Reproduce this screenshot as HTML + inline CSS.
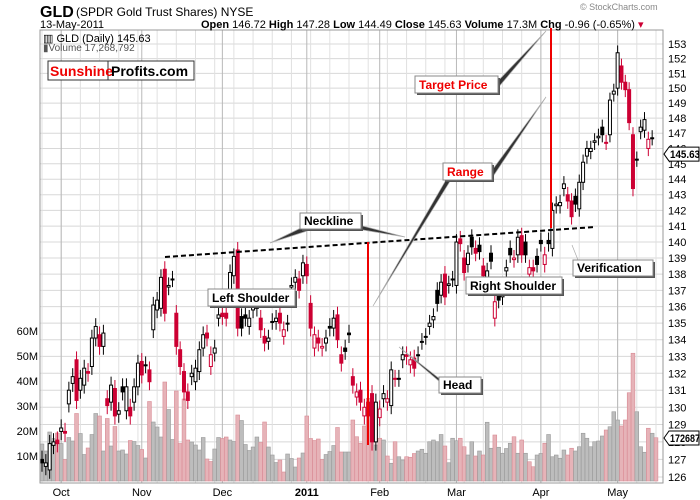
<!DOCTYPE html>
<html><head><meta charset="utf-8">
<style>
body{margin:0;background:#fff;width:700px;height:500px;overflow:hidden;font-family:"Liberation Sans",sans-serif}
svg{display:block}
text{font-family:"Liberation Sans",sans-serif}
</style></head>
<body>
<svg id="chart" width="700" height="500" viewBox="0 0 700 500" xmlns="http://www.w3.org/2000/svg">
<g id="grid"></g>
<g id="vol"></g>
<g id="candles"></g>
<g id="axes"></g>
<text x="40" y="17" font-size="16" font-weight="bold">GLD</text>
<text x="76" y="16" font-size="12">(SPDR Gold Trust Shares) NYSE</text>
<text x="40" y="28" font-size="11">13-May-2011</text>
<text x="201" y="28" font-size="11"><tspan font-weight="bold">Open</tspan> 146.72 <tspan font-weight="bold">High</tspan> 147.28 <tspan font-weight="bold">Low</tspan> 144.49 <tspan font-weight="bold">Close</tspan> 145.63 <tspan font-weight="bold">Volume</tspan> 17.3M <tspan font-weight="bold">Chg</tspan> -0.96 (-0.65%) <tspan fill="#c03">▾</tspan></text>
<text x="580" y="10" font-size="9" fill="#888">© StockCharts.com</text>
<text x="43" y="42" font-size="11">▥ GLD (Daily) 145.63</text>
<text x="43" y="51" font-size="10" fill="#555">▮Volume 17,268,792</text>
<g>
<rect x="48" y="61" width="146" height="19" fill="#fff" stroke="#333"/>
<line x1="108" y1="61" x2="108" y2="80" stroke="#333"/>
<text x="50" y="76" font-size="14" font-weight="bold" fill="#e00">Sunshine</text>
<text x="111" y="76" font-size="14" font-weight="bold">Profits.com</text>
</g>
<g id="annot"></g>
</svg>
<script>
const opens=[127.0,126.6,126.4,127.8,128.1,128.6,128.6,130.2,131.4,132.8,131.0,131.3,132.1,132.4,134.1,134.3,133.6,130.5,130.3,131.1,129.6,131.2,129.8,130.0,130.3,131.2,132.7,132.5,132.2,134.6,135.8,135.9,138.3,137.2,137.7,135.6,133.4,132.1,130.9,131.8,131.5,132.1,133.5,134.4,132.4,133.2,135.3,135.6,135.6,136.5,137.9,139.5,135.4,135.5,134.8,135.8,135.9,135.3,134.2,133.9,135.1,135.1,135.6,134.2,135.0,137.2,137.5,137.7,137.9,138.6,136.2,133.5,134.1,133.5,133.8,134.8,134.7,135.5,133.1,133.5,134.4,131.8,130.6,131.0,129.5,130.3,130.8,128.0,129.4,130.5,130.3,130.1,131.7,131.7,132.8,133.1,132.5,132.9,133.1,133.9,134.2,134.8,135.2,137.0,136.7,138.0,137.3,137.7,137.3,140.2,139.0,138.6,140.3,139.6,139.8,138.5,137.8,139.3,135.3,136.9,136.6,138.2,139.6,138.9,139.2,140.4,140.0,138.0,138.4,139.1,140.1,138.6,140.1,139.6,142.3,142.3,143.4,143.0,142.6,142.9,142.1,143.8,145.5,145.8,146.4,146.7,147.4,146.4,146.9,149.6,150.0,151.5,150.4,149.9,146.9,145.3,147.1,147.2,146.0,146.7];
const closes=[126.8,126.8,127.9,128.0,127.9,128.8,128.5,131.0,131.8,130.4,131.7,132.3,132.0,134.1,134.8,133.6,134.4,130.1,131.3,129.5,129.8,130.9,131.2,129.5,131.2,132.6,131.9,132.5,131.5,136.1,136.4,137.8,135.6,137.3,137.7,133.6,132.4,130.9,130.4,132.0,132.3,133.4,134.3,134.1,133.1,133.5,135.5,135.4,135.3,138.1,139.1,134.7,134.7,135.3,135.3,136.2,136.2,134.6,133.8,134.1,135.1,135.3,135.0,134.6,135.0,137.3,137.8,137.0,138.7,137.9,134.7,134.3,133.8,133.6,134.1,134.7,135.3,134.0,132.6,133.3,134.3,131.3,130.9,130.3,130.0,129.5,128.0,130.3,129.9,130.8,130.5,132.2,131.7,131.7,133.1,133.0,132.8,132.3,133.1,133.9,134.2,135.0,135.4,136.2,137.5,136.6,137.4,137.7,140.0,139.9,138.1,139.3,139.7,139.3,139.4,137.9,138.2,138.8,136.3,136.4,136.9,138.4,139.2,139.0,140.3,139.2,139.2,138.4,138.2,138.6,139.9,139.2,139.9,142.0,142.4,142.5,143.7,142.6,141.6,142.4,143.8,145.1,146.0,146.0,146.5,146.8,146.9,146.4,149.2,149.8,152.4,150.4,149.9,147.7,143.4,145.3,147.4,147.9,146.6,146.7,145.6];
const volumes=[14.8,12,19.6,17,19.2,15,8.6,17.4,16,27,19,10.6,13.2,18.6,27,26,12,25,14,21.8,12,12.4,10.8,16.2,15.8,14.2,12.6,9.2,31.8,23.6,21.6,17.6,39.6,28.6,16.6,36,15,32.8,16.4,15.6,14.4,12.4,17.4,8.8,7.8,12.8,17.4,17,17.6,16.4,15.8,26.4,24.2,14.6,12.2,13.6,17.6,15.4,23.6,13.6,10.4,7.4,8.4,3.6,10.8,9,5.6,9.2,11.2,26,17,16.2,16.8,8.6,10.6,11.8,14.2,21.4,11.6,11.6,11.6,
24.4,17.7,15.1,22.0,33.1,31.7,14.4,17.1,16.4,10.0,7.1,15.7,9.7,8.4,9.7,9.5,11,12,12.7,11.1,15.7,16.4,15.7,18.6,14,7.3,17.1,16.1,17.1,13.7,10.4,15.7,10.0,12,10.4,23.5,13.1,18.4,13.5,11.1,13,15.1,17.7,11.1,16.4,11.1,7.7,5.7,10.4,11,15.1,18.6,9.7,10.4,9.1,12.4,10.4,13.1,12,13.7,19.1,17.1,13.7,15.7,16.0,18,20.4,21.7,27.7,24.4,22,24.4,35.3,51.1,27.7,13.7,11.5,21.1,19.1,17.3];
const priceTicks=[126,127,128,129,130,131,132,133,134,135,136,137,138,139,140,141,142,143,144,145,146,147,148,149,150,151,152,153];
const volTicks=[10,20,30,40,50,60];
const monthLabels=["Oct","Nov","Dec","2011","Feb","Mar","Apr","May"];
const monthIndex=[5,26,47,69,88,108,130,150];

const NS="http://www.w3.org/2000/svg";
const L=40,R=663,T=30,B=483;
const N=closes.length;
function xAt(i){return 42+i*(614/(N-1));}
function yP(p){return 44+(Math.log(153)-Math.log(p))/(Math.log(153)-Math.log(126))*433;}
function yV(v){return 481-v*2.5;}
function mk(tag,attrs,parent){const e=document.createElementNS(NS,tag);for(const k in attrs)e.setAttribute(k,attrs[k]);parent.appendChild(e);return e;}
const grid=document.getElementById('grid'),vol=document.getElementById('vol'),cg=document.getElementById('candles'),ax=document.getElementById('axes'),an=document.getElementById('annot');

const fr=mk('rect',{x:L,y:T,width:R-L,height:B-T,fill:'none',stroke:'#999'},ax);


priceTicks.forEach(p=>{
  const y=yP(p);
  mk('line',{x1:L,x2:R,y1:y,y2:y,stroke:'#d8d8d8'},grid);
  const t=mk('text',{x:668,y:y+4,'font-size':11},ax);t.textContent=p;
  
  
});
volTicks.forEach(v=>{
  const y=yV(v);
  const t=mk('text',{x:38,y:y+4,'font-size':11,'text-anchor':'end'},ax);t.textContent=v+'M';
  
  
});
for(let i=0;i<N;i+=5){const x=xAt(i);mk('line',{x1:x,x2:x,y1:T,y2:B,stroke:'#e0e0e0'},grid);}
monthIndex.forEach((mi,k)=>{
  const x=xAt(mi);
  mk('line',{x1:x,x2:x,y1:T,y2:B,stroke:'#b8b8b8'},grid);
  const t=mk('text',{x:x,y:496,'font-size':11,'text-anchor':'middle','font-weight':monthLabels[k]==='2011'?'bold':'normal'},ax);
  t.textContent=monthLabels[k];
  
  
});
for(let i=0;i<N;i++){
  const x=xAt(i),o=opens[i],c=closes[i];
  const up=i===0?true:c>=closes[i-1];
  const v=volumes[i]||0;
  const b=mk('rect',{x:x-1.9,y:yV(v),width:3.8,height:481-yV(v),fill:up?'#bdbdbd':'#e6b3b8',stroke:up?'#999':'#d98a94','stroke-width':0.6},vol);
  
  
  const col=up?'#000':'#cc0033';
  const hi=Math.max(o,c)+0.5,lo=Math.min(o,c)-0.5;
  const w=mk('line',{x1:x,x2:x,y1:yP(hi),y2:yP(lo),stroke:col,'stroke-width':1},cg);
  
  
  const yt=yP(Math.max(o,c)),yb=yP(Math.min(o,c));
  const body=mk('rect',{x:x-1.5,y:yt,width:3,height:Math.max(1,yb-yt),fill:c>o?'#fff':col,stroke:col,'stroke-width':1},cg);
  
  
}
function tag(y,txt,name){
  const g=mk('g',{},ax);
  
  
  mk('polygon',{points:`${R+1},${y} ${R+6},${y-7} ${699},${y-7} ${699},${y+7} ${R+6},${y+7}`,fill:'#fff',stroke:'#000'},g);
  const t=mk('text',{x:R+7,y:y+4,'font-size':11,'font-weight':'bold',textLength:30,lengthAdjust:'spacingAndGlyphs'},g);t.textContent=txt;
}
tag(yP(145.63),'145.63','last-price-tag');
tag(438,'172687','last-volume-tag');

function box(x,y,w,h,txt,color,name){
  const g=mk('g',{},an);
  
  
  mk('rect',{x:x+2,y:y+2,width:w,height:h,fill:'#555'},g);
  mk('rect',{x:x,y:y,width:w,height:h,fill:'#fff',stroke:'#888'},g);
  const t=mk('text',{x:x+4,y:y+h-4,'font-size':12,'font-weight':'bold',fill:color},g);t.textContent=txt;
}
function pointer(x1,y1,x2,y2,name){
  const g=mk('g',{},an);
  
  
  mk('polygon',{points:`${x1},${y1-2} ${x1+2},${y1+3} ${x2},${y2}`,fill:'#333',stroke:'#aaa','stroke-width':0.7},g);
}
const nl=mk('line',{x1:165,y1:257,x2:595,y2:227,stroke:'#000','stroke-width':2,'stroke-dasharray':'5,3'},an);


const r1=mk('line',{x1:368,y1:242,x2:368,y2:445,stroke:'#e00','stroke-width':2},an);


const r2=mk('line',{x1:551,y1:28,x2:551,y2:228,stroke:'#e00','stroke-width':2},an);


pointer(305,228,270,243,'neckline-pointer-left');
pointer(355,226,405,237,'neckline-pointer-right');
pointer(495,86,546,31,'target-pointer');
pointer(490,175,546,97,'range-pointer-up');
pointer(450,175,373,306,'range-pointer-down');
pointer(445,385,399,347,'head-pointer');
pointer(578,262,572,245,'verification-pointer');
box(300,213,61,16,'Neckline','#000','neckline-label');
box(415,76,83,17,'Target Price','#e00','target-price-label');
box(443,163,49,17,'Range','#e00','range-label');
box(208,289,87,17,'Left Shoulder','#000','left-shoulder-label');
box(466,277,96,17,'Right Shoulder','#000','right-shoulder-label');
box(439,377,42,16,'Head','#000','head-label');
box(573,260,80,16,'Verification','#000','verification-label');
</script>
</body></html>
